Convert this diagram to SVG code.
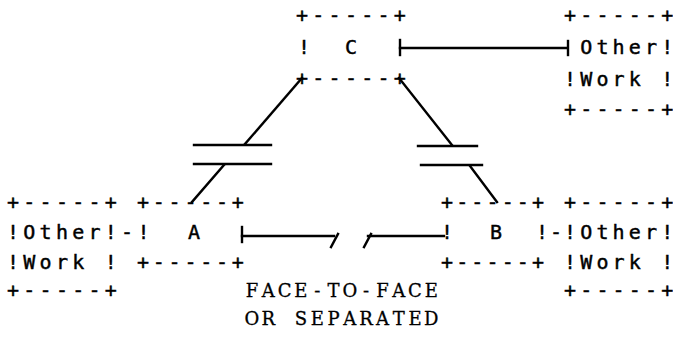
<svg xmlns="http://www.w3.org/2000/svg" width="673" height="339" viewBox="0 0 673 339">
<style>
  .t { font-family: "DejaVu Sans Mono", "Liberation Mono", monospace; font-size: 20px; fill: #000; stroke: #000; stroke-width: 0.45px; text-anchor: middle; white-space: pre; }
  .s { font-family: "DejaVu Serif", "Liberation Serif", serif; font-size: 18px; fill: #000; stroke: #000; stroke-width: 0.3px; text-anchor: middle; white-space: pre; }
  .c { stroke: #000; stroke-width: 2.4; fill: none; stroke-linecap: square; }
</style>
<rect width="673" height="339" fill="#fff"/>

<g id="node-C">
  <text class="t" x="302 318.3 334.6 350.9 367.2 383.5 399.8" y="22">+-----+</text>
  <text class="t" x="304 319 335 351" y="54">!  C</text>
  <text class="t" x="302 318.3 334.6 350.9 367.2 383.5 399.8" y="85">+-----+</text>
</g>

<g id="node-other-top">
  <text class="t" x="570 586.2 602.4 618.6 634.8 651 667.2" y="22">+-----+</text>
  <text class="t" x="586.2 602.4 618.6 634.8 651 667.2" y="54">Other!</text>
  <text class="t" x="570 586.2 602.4 618.6 634.8 651 667.2" y="86">!Work !</text>
  <text class="t" x="570 586.2 602.4 618.6 634.8 651 667.2" y="116">+-----+</text>
</g>

<g id="node-other-left">
  <text class="t" x="13 29.3 45.6 61.9 78.2 94.5 110.8" y="209">+-----+</text>
  <text class="t" x="13 29.3 45.6 61.9 78.2 94.5 110.8 127.1 143.4" y="239">!Other!-!</text>
  <text class="t" x="13 29.3 45.6 61.9 78.2 94.5 110.8" y="269">!Work !</text>
  <text class="t" x="13 29.3 45.6 61.9 78.2 94.5 110.8" y="297">+-----+</text>
</g>

<g id="node-A">
  <text class="t" x="143 158.8 174.6 190.4 206.2 222 237.8" y="209">+-----+</text>
  <text class="t" x="194" y="239">A</text>
  <text class="t" x="143 158.8 174.6 190.4 206.2 222 237.8" y="269">+-----+</text>
</g>

<g id="node-B">
  <text class="t" x="447 462.2 477.3 492.5 507.7 522.8 538" y="209">+-----+</text>
  <text class="t" x="447 463 479 496 512 528 542 556 570 586.2 602.4 618.6 634.8 651 667.2" y="239">!  B  !-!Other!</text>
  <text class="t" x="447 462.2 477.3 492.5 507.7 522.8 538" y="269">+-----+</text>
</g>

<g id="node-other-right">
  <text class="t" x="570 586.2 602.4 618.6 634.8 651 667.2" y="209">+-----+</text>
  <text class="t" x="570 586.2 602.4 618.6 634.8 651 667.2" y="269">!Work !</text>
  <text class="t" x="570 586.2 602.4 618.6 634.8 651 667.2" y="297">+-----+</text>
</g>

<g id="label">
  <text class="s" x="252 268.3 284.6 300.9 317.2 333.5 349.8 366.1 382.4 398.7 415 431.3" y="297">FACE-TO-FACE</text>
  <text class="s" x="252 268.3 284.6 300.9 317.2 333.5 349.8 366.1 382.4 398.7 415 431.3" y="325">OR SEPARATED</text>
</g>

<g id="connectors">
  <!-- C to Other (top) -->
  <line class="c" x1="400" y1="40" x2="400" y2="55"/>
  <line class="c" x1="400" y1="48" x2="567" y2="48"/>
  <line class="c" x1="568" y1="41" x2="568" y2="55"/>
  <!-- C to A via capacitor -->
  <line class="c" x1="302" y1="78" x2="245" y2="144"/>
  <line class="c" x1="194" y1="145" x2="271" y2="145"/>
  <line class="c" x1="194" y1="164" x2="271" y2="164"/>
  <line class="c" x1="224" y1="165" x2="192" y2="202"/>
  <!-- C to B via capacitor -->
  <line class="c" x1="399" y1="78" x2="452" y2="145"/>
  <line class="c" x1="418" y1="146" x2="477" y2="146"/>
  <line class="c" x1="421" y1="165" x2="482" y2="165"/>
  <line class="c" x1="470" y1="166" x2="497" y2="202"/>
  <!-- A to B, face-to-face or separated -->
  <line class="c" x1="242" y1="227" x2="242" y2="242"/>
  <line class="c" x1="242" y1="236" x2="334" y2="236"/>
  <line class="c" x1="331" y1="247" x2="338" y2="234"/>
  <line class="c" x1="364" y1="247" x2="371" y2="234"/>
  <line class="c" x1="368" y1="236" x2="444" y2="236"/>
</g>
</svg>
